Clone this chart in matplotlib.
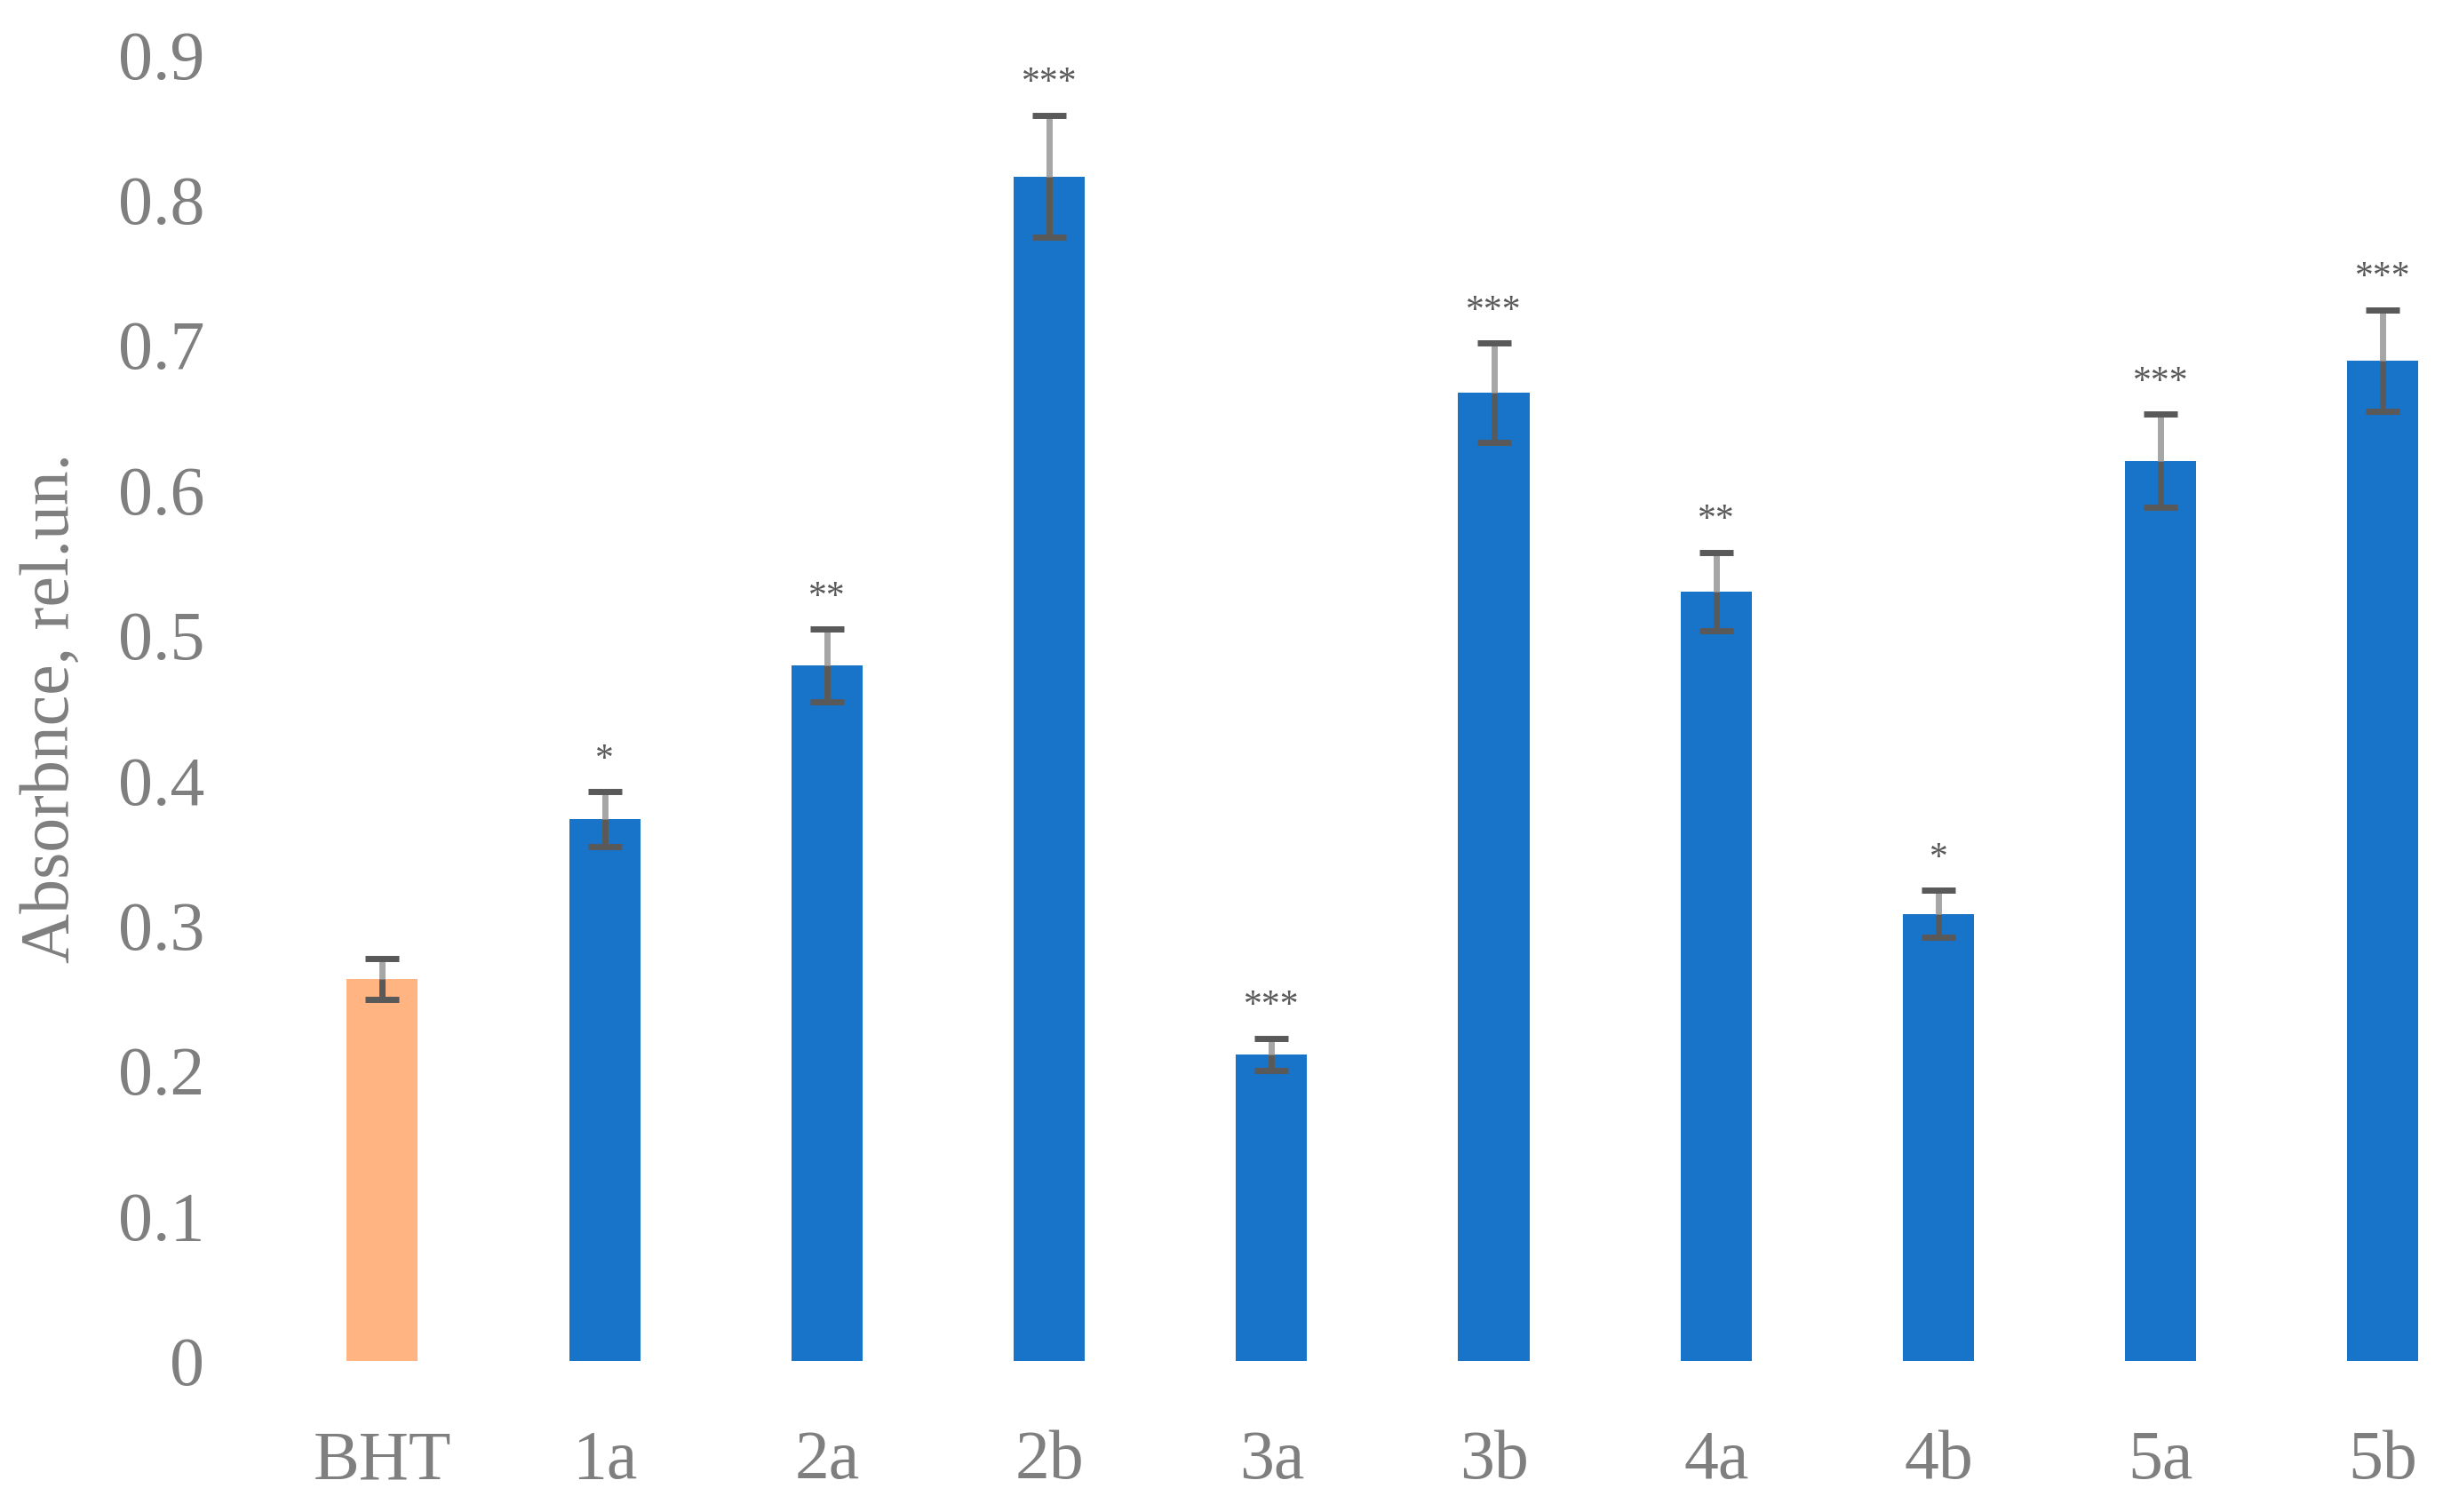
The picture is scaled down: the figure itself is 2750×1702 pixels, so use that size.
import numpy as np
import matplotlib
matplotlib.use('Agg')
import matplotlib.pyplot as plt

# values
samples = ['BHT', '1a', '2a', '2b', '3a', '3b', '4a', '4b', '5a', '5b']
absorbance = [0.263, 0.373, 0.479, 0.816, 0.211, 0.667, 0.530, 0.308, 0.620, 0.689]
errors = [0.014, 0.019, 0.025, 0.042, 0.011, 0.034, 0.027, 0.016, 0.032, 0.035]
stars = ['', '*', '**', '***', '***', '***', '**', '*', '***', '***']

BLUE = '#1874C8'
ORANGE = '#FFB482'
DARK = '#595959'
LIGHT = '#A6A6A6'
TEXT = '#7F7F7F'

plt.rcParams['font.family'] = ['Liberation Serif', 'DejaVu Serif']

fig = plt.figure(figsize=(13.75, 8.51), dpi=200)
ax = fig.add_axes([0.111, 0.1, 0.889, 0.864])

x = np.arange(len(samples))
colors = [ORANGE] + [BLUE] * (len(samples) - 1)
ax.bar(x, absorbance, width=0.32, color=colors, zorder=2)

vals = np.array(absorbance)
errs = np.array(errors)
eb = ax.errorbar(x, vals, yerr=errs, fmt='none', ecolor=LIGHT,
                 elinewidth=2.5, capsize=6.8, capthick=2.5, zorder=3)
for cap in eb[1]:
    cap.set_color(DARK)
    cap.set_markeredgecolor(DARK)
# error bar is dark where it sits on the bar
ax.vlines(x, vals - errs, vals, color=DARK, lw=2.5, zorder=3)

for xi, v, e, s in zip(x, vals, errs, stars):
    if s:
        ax.text(xi, v + e + 0.022, s, ha='center', va='center',
                fontsize=15, color=DARK, clip_on=False)

ax.set_xlim(-0.5, 9.27)
ax.set_ylim(0, 0.9)
ax.set_yticks(np.arange(0, 0.91, 0.1))
ax.set_yticklabels(['0'] + ['%.1f' % t for t in np.arange(0.1, 0.91, 0.1)])
ax.set_xticks(x)
ax.set_xticklabels(samples)
ax.tick_params(length=0, labelsize=28, labelcolor=TEXT)
ax.tick_params(axis='x', pad=28)
ax.tick_params(axis='y', pad=27)
ax.set_ylabel('Absorbnce, rel.un.', fontsize=28, color=TEXT, labelpad=14)
for sp in ax.spines.values():
    sp.set_visible(False)

fig.savefig('out.png', dpi=200)
